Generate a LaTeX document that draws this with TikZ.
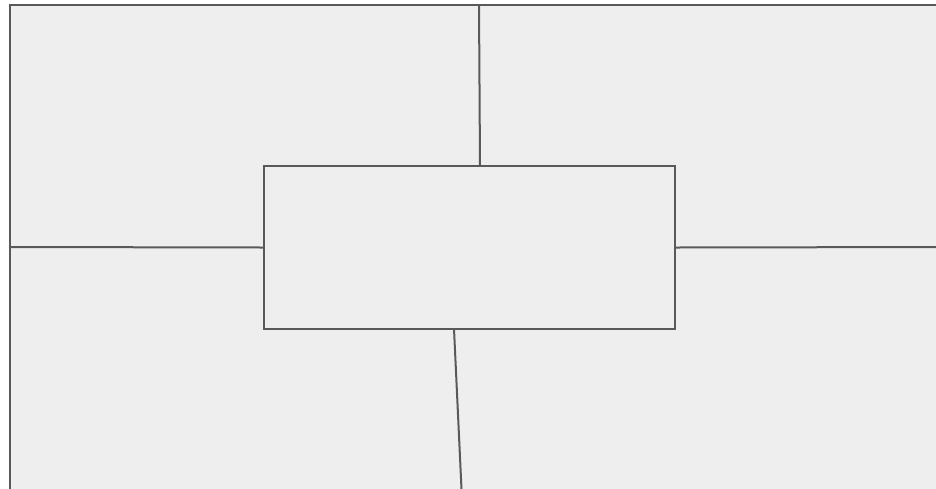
\documentclass[tikz,border=0pt]{standalone}
\definecolor{linegray}{HTML}{595959}
\definecolor{fillgray}{HTML}{EEEEEE}
\tikzset{
  frame/.style={draw=linegray, line width=2pt, fill=fillgray},
  conn/.style={draw=linegray, line width=2pt},
  centerbox/.style={draw=linegray, line width=2pt, fill=fillgray, rectangle, minimum width=411pt, minimum height=163pt, inner sep=0pt}
}
\begin{document}
\begin{tikzpicture}[x=1pt,y=-1pt]
\useasboundingbox (0,0) rectangle (936,488);
\clip (0,0) rectangle (936,488);
\fill[white] (0,0) rectangle (936,488);
\draw[frame] (10,5) rectangle (950,500);
\node[centerbox] (c) at (469.5,247.5) {};
\coordinate (top) at (479,5);
\coordinate (left) at (10,247);
\coordinate (right) at (950,247);
\coordinate (bottom) at (462,500);
\draw[conn] (top) -- (480,166) coordinate (ctop);
\draw[conn] (left) -- (c.west);
\draw[conn] (c.east) -- (right);
\draw[conn] (454,329) coordinate (cbot) -- (bottom);
\end{tikzpicture}
\end{document}
